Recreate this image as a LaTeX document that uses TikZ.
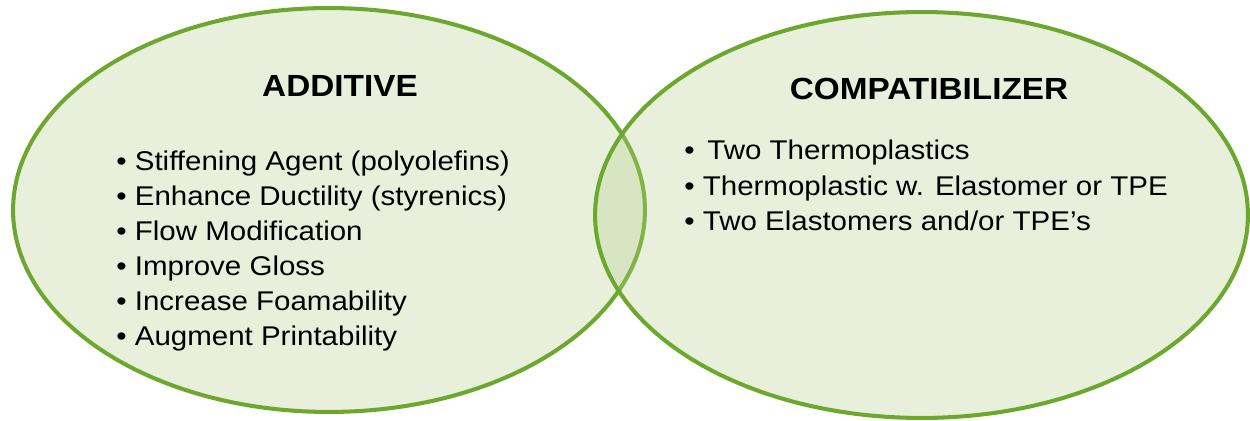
\documentclass[tikz,border=0pt]{standalone}
\usepackage{fontspec}
\setmainfont{Liberation Sans}[FakeStretch=1.09]
\usepackage{xcolor}
\usetikzlibrary{shapes.geometric}
\definecolor{vennLine}{HTML}{6DA82E}
\definecolor{vennFill}{HTML}{B2CD8A}

\begin{document}
\begin{tikzpicture}[
  x=0.02cm, y=-0.02cm,
  set/.style={ellipse, draw=vennLine, line width=2.3pt, fill=vennFill, fill opacity=0.3, draw opacity=1, inner sep=0pt},
  heading/.style={font=\fontsize{17.4}{20}\bfseries\selectfont, anchor=base, inner sep=0pt},
  item/.style={font=\fontsize{15.4}{20.4}\selectfont, anchor=base west, inner sep=0pt}
]
  \useasboundingbox (0,0) rectangle (1250,421);

  \node[set, minimum width=12.64cm, minimum height=8.08cm] (additive) at (329,210) {};
  \node[set, minimum width=13.06cm, minimum height=8.12cm] (compat) at (921.5,215) {};

  \node[heading] (addTitle) at (340,97) {ADDITIVE};
  \node[heading] (compTitle) at (929,100) {COMPATIBILIZER};

  \node[item] (add1) at (116,171) {\textbullet\ Stiffening Agent (polyolefins)};
  \node[item] (add2) at (116,206) {\textbullet\ Enhance Ductility (styrenics)};
  \node[item] (add3) at (116,241) {\textbullet\ Flow Modification};
  \node[item] (add4) at (116,276) {\textbullet\ Improve Gloss};
  \node[item] (add5) at (116,311) {\textbullet\ Increase Foamability};
  \node[item] (add6) at (116,346) {\textbullet\ Augment Printability};

  \node[item] (comp1) at (684,160) {\textbullet\ \,Two Thermoplastics};
  \node[item] (comp2) at (684,196) {\textbullet\ Thermoplastic w. Elastomer or TPE};
  \node[item] (comp3) at (684,231) {\textbullet\ Two Elastomers and/or TPE’s};
\end{tikzpicture}
\end{document}
